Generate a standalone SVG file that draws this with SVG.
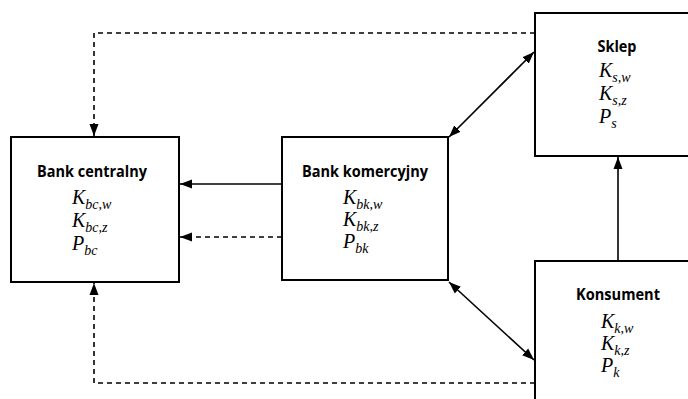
<svg xmlns="http://www.w3.org/2000/svg" width="688" height="399" viewBox="0 0 688 399">
<style>
.box{fill:#fff;stroke:#000;stroke-width:2}
.t{font-family:"Open Sans","Noto Sans",sans-serif;font-weight:bold;font-size:16px;text-anchor:middle;fill:#000}
.m{font-family:"Liberation Serif","Times New Roman",serif;font-style:italic;font-size:20px;fill:#000}
.s{font-size:14px}
.ln{stroke:#000;stroke-width:1.6;fill:none}
.d{stroke-dasharray:5,4}
</style>
<defs>
<marker id="ah" viewBox="0 0 12 10" refX="12" refY="5" markerWidth="12" markerHeight="10" markerUnits="userSpaceOnUse" orient="auto-start-reverse">
<path d="M0,0.5 L12,5 L0,9.5 Z" fill="#000"/>
</marker>
</defs>
<rect width="688" height="399" fill="#fff"/>
<g id="connectors">
<line class="ln" x1="282" y1="184" x2="180" y2="184" marker-end="url(#ah)"/>
<line class="ln d" x1="282" y1="237" x2="180" y2="237" marker-end="url(#ah)"/>
<polyline class="ln d" points="535,33 94,33 94,136" marker-end="url(#ah)"/>
<polyline class="ln d" points="535,383 94,383 94,283" marker-end="url(#ah)"/>
<line class="ln" x1="449" y1="137" x2="534" y2="52" marker-start="url(#ah)" marker-end="url(#ah)"/>
<line class="ln" x1="449" y1="282" x2="534" y2="360" marker-start="url(#ah)" marker-end="url(#ah)"/>
<line class="ln" x1="618" y1="261" x2="618" y2="157" marker-end="url(#ah)"/>
</g>
<g id="bank-centralny">
<rect class="box" x="11" y="137" width="168" height="145"/>
<text class="t" x="92" y="177" textLength="110" lengthAdjust="spacingAndGlyphs">Bank centralny</text>
<text class="m" x="72" y="204">K<tspan class="s" dy="5">bc,w</tspan></text>
<text class="m" x="72" y="227">K<tspan class="s" dy="5">bc,z</tspan></text>
<text class="m" x="72" y="250">P<tspan class="s" dy="5">bc</tspan></text>
</g>
<g id="bank-komercyjny">
<rect class="box" x="282" y="137" width="166" height="143"/>
<text class="t" x="365" y="177" textLength="126" lengthAdjust="spacingAndGlyphs">Bank komercyjny</text>
<text class="m" x="343" y="204">K<tspan class="s" dy="5">bk,w</tspan></text>
<text class="m" x="343" y="226">K<tspan class="s" dy="5">bk,z</tspan></text>
<text class="m" x="343" y="248">P<tspan class="s" dy="5">bk</tspan></text>
</g>
<g id="sklep">
<rect class="box" x="535" y="13" width="170" height="143"/>
<text class="t" x="617" y="52" textLength="39" lengthAdjust="spacingAndGlyphs">Sklep</text>
<text class="m" x="599" y="77">K<tspan class="s" dy="5">s,w</tspan></text>
<text class="m" x="599" y="100">K<tspan class="s" dy="5">s,z</tspan></text>
<text class="m" x="599" y="123">P<tspan class="s" dy="5">s</tspan></text>
</g>
<g id="konsument">
<rect class="box" x="535" y="261" width="170" height="150"/>
<text class="t" x="618" y="300" textLength="84" lengthAdjust="spacingAndGlyphs">Konsument</text>
<text class="m" x="601" y="328">K<tspan class="s" dy="5">k,w</tspan></text>
<text class="m" x="601" y="350">K<tspan class="s" dy="5">k,z</tspan></text>
<text class="m" x="601" y="372">P<tspan class="s" dy="5">k</tspan></text>
</g>
</svg>
